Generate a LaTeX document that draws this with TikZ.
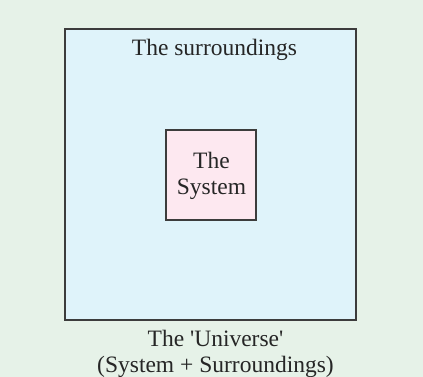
\documentclass[tikz,border=0pt]{standalone}
\usepackage{fontspec}
\setmainfont{Liberation Serif}
\usetikzlibrary{positioning}
\definecolor{bggreen}{RGB}{230,242,232}
\definecolor{surrblue}{RGB}{223,243,250}
\definecolor{syspink}{RGB}{253,232,240}
\definecolor{edgegray}{RGB}{60,60,60}

\begin{document}
\begin{tikzpicture}[
    x=1pt, y=-1pt,
    region/.style={rectangle, draw=edgegray, line width=1.2pt, inner sep=0pt},
    lbl/.style={font=\fontsize{23.5}{25.5}\selectfont, text=black!85, align=center, inner sep=0pt, anchor=base}
]
\fill[bggreen] (0,0) rectangle (423,377);
\useasboundingbox (0,0) rectangle (423,377);
\node[region, fill=surrblue, minimum width=291pt, minimum height=291pt] (surr) at (210.5,174.5) {};
\node[region, fill=syspink, minimum width=90pt, minimum height=90pt] (sys) at (211,175) {};
\node[lbl] (syslbl) at (211.5,194) {The\\System};
\node[lbl] (surrlbl) at (214.5,56) {The surroundings};
\node[lbl] (univ) at (215.5,372) {The \textquotesingle Universe\textquotesingle\\(System + Surroundings)};
\end{tikzpicture}
\end{document}
